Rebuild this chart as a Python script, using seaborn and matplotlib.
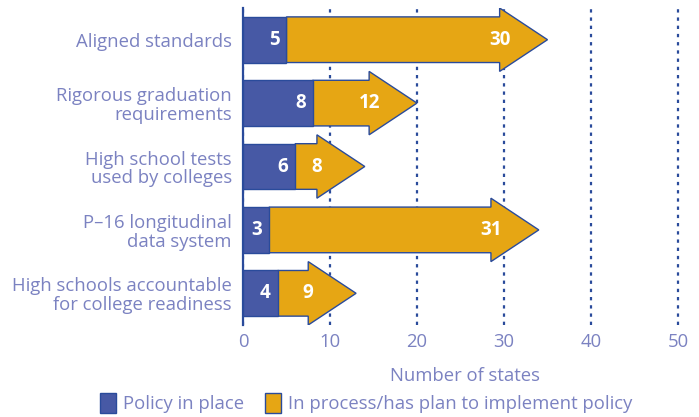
import matplotlib
matplotlib.use("Agg")
import matplotlib.pyplot as plt
from matplotlib.patches import FancyArrow, Patch
import seaborn as sns

# Data
categories = [
    "Aligned standards",
    "Rigorous graduation\nrequirements",
    "High school tests\nused by colleges",
    "P\u201316 longitudinal\ndata system",
    "High schools accountable\nfor college readiness",
]
in_place = [5, 8, 6, 3, 4]
in_process = [30, 12, 8, 31, 9]
ticks = [0, 10, 20, 30, 40, 50]

BLUE = "#4759a5"
GOLD = "#e6a614"
EDGE = "#2a4b9b"
TEXT = "#7b82c1"
FS = 13.3

sns.set_theme(style="white")
plt.rcParams["font.family"] = ["Open Sans", "DejaVu Sans"]

fig = plt.figure(figsize=(6.99, 4.17), dpi=100)
ax = fig.add_axes([0.3476, 0.2206, 0.6348, 0.7602])

sns.barplot(x=in_place, y=categories, orient="h", color=BLUE, width=0.72,
            edgecolor=EDGE, linewidth=1, saturation=1, ax=ax, zorder=3)

head_len = 5.5
for i, (a, b) in enumerate(zip(in_place, in_process)):
    ax.add_patch(FancyArrow(a, i, b, 0, width=0.72, head_width=1.0,
                            head_length=head_len, length_includes_head=True,
                            facecolor=GOLD, edgecolor=EDGE, linewidth=1,
                            zorder=2))
    # value labels
    ax.text(a - 0.8, i, str(a), ha="right", va="center", color="white",
            fontsize=13.5, fontweight="bold", zorder=4)
    ax.text(a + b - head_len, i, str(b), ha="center", va="center",
            color="white", fontsize=13.5, fontweight="bold", zorder=4)

ax.set_xlim(0, 51)
ax.set_ylim(4.5, -0.5)
ax.set_xticks(ticks)
ax.set_xticklabels([str(t) for t in ticks])
ax.grid(axis="x", color=EDGE, linestyle=(0, (1.5, 2.2)), linewidth=1.6)
ax.set_axisbelow(True)

for side in ["top", "right", "bottom"]:
    ax.spines[side].set_visible(False)
ax.spines["left"].set_color(EDGE)
ax.spines["left"].set_linewidth(1.6)

ax.tick_params(axis="both", length=0, colors=TEXT, labelsize=FS)
ax.tick_params(axis="y", pad=8)
ax.tick_params(axis="x", pad=6)
for lbl in ax.get_yticklabels():
    lbl.set_linespacing(1.06)

ax.set_ylabel("")
ax.set_xlabel("Number of states", color=TEXT, fontsize=FS, labelpad=11)

handles = [
    Patch(facecolor=BLUE, edgecolor=EDGE, label="Policy in place"),
    Patch(facecolor=GOLD, edgecolor=EDGE,
          label="In process/has plan to implement policy"),
]
leg = fig.legend(handles=handles, loc="center", bbox_to_anchor=(0.524, 0.034),
                 ncol=2, frameon=False, fontsize=FS, handlelength=0.85,
                 handleheight=1.3, handletextpad=0.4, columnspacing=1.1)
for t in leg.get_texts():
    t.set_color(TEXT)

fig.savefig("out.png", dpi=100)
